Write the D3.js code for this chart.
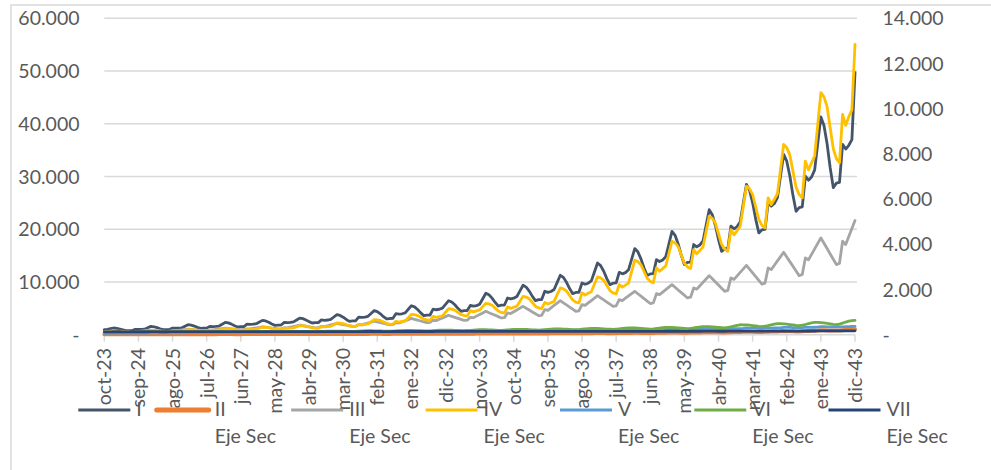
<!DOCTYPE html>
<html>
<head>
<meta charset="utf-8">
<script src="https://cdn.jsdelivr.net/npm/d3@7"></script>
<style>
  html, body { margin: 0; padding: 0; background: #ffffff; overflow: hidden; }
  svg { display: block; font-family: Lato, "Open Sans", "Noto Sans", sans-serif; }
</style>
</head>
<body>
<svg id="chart" width="991" height="470"></svg>
<script>
// Monthly series, oct-23 .. dic-43 (243 months)
const monthNames = ["ene","feb","mar","abr","may","jun","jul","ago","sep","oct","nov","dic"];
const firstMonthIndex = 9;   // oct
const firstYear = 23;
const pointCount = 243;
const categories = d3.range(pointCount).map(i => {
  const m = firstMonthIndex + i;
  return monthNames[m % 12] + "-" + String(firstYear + Math.floor(m / 12)).padStart(2, "0");
});

const tickLabels = ["oct-23","sep-24","ago-25","jul-26","jun-27","may-28","abr-29","mar-30","feb-31","ene-32",
  "dic-32","nov-33","oct-34","sep-35","ago-36","jul-37","jun-38","may-39","abr-40","mar-41","feb-42","ene-43","dic-43"];

const leftTicks = [0, 10000, 20000, 30000, 40000, 50000, 60000];
const rightTicks = [0, 2000, 4000, 6000, 8000, 10000, 12000, 14000];

// Series I (primary axis)
const serieI = [
  950, 1000, 1130,
  1270, 1210, 1080, 900, 760, 780, 790, 1010, 985, 1005, 1050, 1315,
  1580, 1505, 1340, 1125, 950, 980, 985, 1250, 1220, 1245, 1300, 1600,
  1900, 1815, 1635, 1395, 1200, 1235, 1240, 1580, 1540, 1570, 1645, 1990,
  2340, 2235, 2005, 1705, 1460, 1505, 1510, 2000, 1950, 1990, 2080, 2400,
  2720, 2605, 2360, 2035, 1770, 1825, 1830, 2340, 2280, 2330, 2435, 2790,
  3150, 3040, 2800, 2480, 2220, 2285, 2300, 2800, 2730, 2785, 2910, 3355,
  3800, 3650, 3315, 2885, 2530, 2605, 2620, 3350, 3265, 3335, 3485, 4020,
  4560, 4370, 3960, 3420, 2980, 3070, 3085, 3990, 3890, 3970, 4150, 4825,
  5500, 5275, 4780, 4140, 3610, 3720, 3735, 4850, 4730, 4825, 5045, 5745,
  6450, 6210, 5680, 4995, 4430, 4565, 4585, 5550, 5410, 5520, 5770, 6810,
  7850, 7560, 6935, 6115, 5440, 5605, 5630, 6960, 6785, 6925, 7240, 8305,
  9370, 9020, 8260, 7270, 6450, 6645, 6675, 8230, 8025, 8190, 8560, 9915,
  11270, 10850, 9945, 8755, 7780, 8015, 8050, 9810, 9565, 9760, 10200, 11900,
  13600, 13105, 12040, 10640, 9490, 9775, 9820, 11830, 11535, 11770, 12305, 14315,
  16330, 15715, 14380, 12635, 11200, 11535, 11590, 14240, 13885, 14170, 14810, 17205,
  19600, 18845, 17205, 15065, 13300, 13700, 13765, 17100, 16675, 17015, 17785, 20740,
  23700, 22750, 20700, 18010, 15800, 16275, 16355, 20600, 20085, 20495, 21425, 24960,
  28500, 27395, 25005, 21875, 19300, 19880, 19975, 25000, 24375, 24875, 26000, 30100,
  34200, 32905, 30095, 26425, 23400, 24100, 24220, 30050, 29300, 29900, 31250, 36275,
  41300, 39690, 36210, 31650, 27900, 28735, 28875, 36100, 35200, 35920, 37000, 49700
];

// Series II .. VII (secondary axis)
const serieII = [
  18, 18, 19,
  20,20,20,19,19,19,20,20,21,21,21,22,
  22,22,22,21,21,21,22,22,23,23,24,24,
  24,24,24,23,23,23,24,24,25,25,26,26,
  26,26,26,25,25,25,26,26,27,27,28,28,
  28,28,28,27,27,27,28,29,29,30,30,31,
  31,31,31,30,30,30,31,32,32,33,33,34,
  34,34,34,33,33,33,34,35,35,36,36,37,
  37,37,37,36,36,36,37,38,39,40,40,41,
  41,41,41,40,40,40,41,42,43,44,44,45,
  45,45,45,44,44,44,45,46,47,48,49,50,
  50,50,50,49,48,48,50,51,52,53,54,55,
  56,56,55,54,54,54,56,57,58,59,60,62,
  63,63,62,61,60,60,63,64,65,67,68,70,
  72,71,70,69,68,68,71,73,74,76,78,80,
  82,81,80,78,77,77,80,83,85,87,89,92,
  95,94,92,90,89,89,92,96,99,101,104,107,
  110,109,106,104,102,102,106,111,115,118,121,125,
  130,128,125,122,120,120,125,131,136,140,144,149,
  160,157,153,149,146,146,152,160,166,171,176,182,
  200,196,191,186,182,182,190,200,208,216,228,240
];

const serieIII = [
  140, 150, 160,
  170, 161, 152, 143, 134, 125, 127, 150, 146, 161, 176, 190,
  205, 194, 183, 172, 161, 150, 153, 180, 176, 193, 211, 228,
  245, 232, 219, 206, 193, 180, 184, 215, 210, 230, 250, 270,
  290, 275, 260, 245, 230, 215, 219, 260, 254, 278, 302, 326,
  350, 331, 312, 293, 274, 255, 260, 310, 302, 332, 361, 391,
  420, 397, 374, 351, 328, 305, 311, 370, 361, 396, 431, 465,
  500, 473, 446, 419, 392, 365, 372, 445, 434, 476, 517, 559,
  600, 568, 536, 504, 472, 440, 449, 530, 517, 568, 619, 669,
  720, 682, 644, 606, 568, 530, 541, 640, 624, 683, 742, 801,
  860, 814, 768, 722, 676, 630, 643, 770, 751, 822, 893, 963,
  1034, 975, 916, 858, 799, 740, 755, 961, 937, 1017, 1096, 1176,
  1255, 1172, 1090, 1007, 925, 842, 859, 1108, 1080, 1187, 1294, 1400,
  1507, 1412, 1318, 1223, 1129, 1034, 1055, 1329, 1296, 1404, 1512, 1620,
  1728, 1633, 1539, 1444, 1350, 1255, 1280, 1551, 1512, 1614, 1716, 1818,
  1920, 1812, 1704, 1596, 1488, 1380, 1408, 1817, 1772, 1882, 1994, 2104,
  2215, 2097, 1979, 1862, 1744, 1626, 1659, 2069, 2017, 2166, 2316, 2465,
  2614, 2475, 2336, 2196, 2057, 1918, 1956, 2512, 2449, 2604, 2760, 2915,
  3070, 2904, 2738, 2572, 2406, 2240, 2285, 2955, 2881, 3073, 3264, 3456,
  3647, 3440, 3234, 3027, 2821, 2614, 2666, 3398, 3313, 3556, 3799, 4041,
  4284, 4047, 3811, 3574, 3337, 3101, 3163, 4134, 3988, 4340, 4700, 5051
];

const serieIV = [
  110, 120, 135,
  150, 147, 141, 128, 114, 108, 105, 130, 124, 129, 134, 157,
  180, 177, 169, 153, 136, 128, 125, 160, 152, 158, 165, 195,
  225, 221, 211, 190, 169, 159, 155, 200, 190, 198, 206, 238,
  270, 265, 254, 230, 206, 195, 190, 240, 228, 238, 247, 289,
  330, 324, 310, 280, 250, 236, 230, 295, 280, 292, 304, 352,
  400, 393, 376, 340, 304, 287, 280, 360, 342, 356, 371, 445,
  518, 509, 487, 442, 396, 374, 365, 460, 437, 455, 474, 570,
  665, 653, 624, 563, 501, 472, 460, 590, 561, 584, 608, 754,
  900, 884, 848, 770, 692, 656, 640, 811, 770, 803, 835, 993,
  1150, 1131, 1086, 990, 894, 849, 830, 1063, 1010, 1052, 1095, 1243,
  1390, 1364, 1304, 1175, 1046, 986, 960, 1227, 1166, 1215, 1264, 1481,
  1697, 1664, 1588, 1424, 1259, 1183, 1150, 1430, 1359, 1416, 1473, 1771,
  2068, 2028, 1935, 1736, 1537, 1444, 1404, 1848, 1756, 1830, 1903, 2230,
  2556, 2511, 2405, 2180, 1954, 1848, 1803, 2215, 2104, 2193, 2281, 2787,
  3292, 3232, 3094, 2796, 2498, 2360, 2300, 2955, 2807, 2925, 3044, 3589,
  4134, 4061, 3892, 3529, 3166, 2997, 2924, 3766, 3578, 3728, 3879, 4560,
  5241, 5148, 4931, 4466, 4000, 3783, 3690, 4652, 4419, 4605, 4792, 5681,
  6571, 6460, 6202, 5649, 5096, 4838, 4727, 6057, 5754, 5996, 6239, 7328,
  8418, 8276, 7946, 7238, 6529, 6199, 6057, 7678, 7294, 7601, 7908, 9309,
  10709, 10523, 10089, 9158, 8227, 7793, 7607, 9747, 9260, 9650, 9950, 12849
];

const serieV = [
  62, 64, 66,
  71,71,70,69,69,69,69,70,71,71,72,73,
  82,81,80,79,78,78,79,80,81,82,82,83,
  92,91,90,89,88,88,89,90,91,92,93,94,
  102,101,100,99,98,98,99,100,101,102,103,104,
  112,111,110,109,108,108,109,110,111,112,113,114,
  122,121,120,119,118,118,119,120,121,122,124,125,
  133,131,130,129,127,127,129,130,131,133,134,135,
  143,141,140,139,137,137,139,140,141,143,144,146,
  153,152,150,149,147,147,149,150,152,153,155,156,
  165,164,162,160,159,159,160,162,164,165,167,168,
  179,177,175,173,172,172,173,175,177,179,180,182,
  192,190,188,186,184,184,186,188,190,192,194,196,
  204,202,200,198,196,196,198,200,202,204,206,208,
  219,217,215,213,211,211,213,215,217,219,221,224,
  235,232,230,228,225,225,228,230,232,235,237,239,
  250,247,245,243,240,240,243,245,247,250,252,255,
  270,268,265,262,260,260,262,265,268,270,273,276,
  296,293,290,287,284,284,287,290,293,296,299,302,
  326,323,320,317,314,314,317,320,323,326,330,333,
  357,354,350,347,343,343,347,350,354,357,362,368
];

const serieVI = [
  100, 104, 103,
  103,102,100,98,96,95,97,100,104,107,110,110,
  109,108,106,104,102,100,103,106,111,115,118,117,
  117,116,114,112,110,108,111,115,120,124,128,127,
  127,125,122,120,117,115,118,123,129,134,138,137,
  137,135,132,130,127,125,129,134,140,146,150,149,
  149,146,143,140,137,135,139,144,151,157,162,161,
  161,158,154,151,148,145,150,156,163,170,175,174,
  173,170,166,162,158,155,160,167,176,184,190,189,
  188,184,179,174,169,165,171,179,189,198,205,204,
  203,198,193,187,182,178,185,193,204,214,222,221,
  219,214,208,201,195,190,198,208,220,231,240,238,
  237,231,224,217,210,205,213,224,238,250,260,258,
  257,250,242,234,226,220,229,241,256,269,280,278,
  276,269,260,251,242,235,245,258,274,288,300,298,
  296,288,278,268,258,250,261,276,295,312,325,323,
  321,311,300,289,278,270,283,300,321,340,355,353,
  351,341,330,319,308,300,321,349,384,415,440,436,
  434,420,404,388,372,360,380,406,438,467,490,486,
  483,468,450,432,414,400,422,451,487,519,545,541,
  537,520,499,479,458,443,470,510,560,600,625,635
];

const serieVII = [
  128,128,129,
  130,130,130,129,129,129,130,130,130,131,131,131,
  132,132,132,131,131,131,132,132,132,133,133,133,
  134,134,134,133,133,133,134,134,134,135,135,135,
  136,136,136,135,135,135,136,136,136,137,137,137,
  137,137,137,136,136,136,137,137,137,138,138,138,
  138,138,138,137,137,137,138,138,139,139,139,140,
  140,140,140,139,139,139,140,140,140,141,141,141,
  141,141,141,140,140,140,141,141,142,142,142,142,
  142,142,142,141,141,141,142,142,143,143,143,144,
  144,144,144,143,143,143,144,144,144,145,145,145,
  145,145,145,144,144,144,145,145,146,146,146,146,
  146,146,146,145,145,145,146,146,147,147,147,148,
  148,148,148,147,147,147,148,148,148,149,149,149,
  149,149,149,148,148,148,149,149,150,150,150,150,
  150,150,150,149,149,149,150,150,151,151,152,152,
  152,152,152,151,151,151,152,152,153,153,154,154,
  154,154,154,153,153,153,154,155,155,156,156,157,
  157,157,157,156,156,156,157,158,158,159,160,160,
  161,161,161,160,160,160,161,162,163,163,164,165,
  166,166,166,165,165,165,166,167,168,169,170,172
];

const seriesNames = ["I", "II", "III", "IV", "V", "VI", "VII"];
const seriesValues = [serieI, serieII, serieIII, serieIV, serieV, serieVI, serieVII];
const seriesColors = ["#44546A", "#ED7D31", "#A5A5A5", "#FFC000", "#5B9BD5", "#70AD47", "#264478"];
const onSecondary = [false, true, true, true, true, true, true];
const secondaryNote = "Eje Sec";

// ---- layout ----
const svg = d3.select("#chart");
const plot = { left: 104.3, right: 855, top: 18.3, bottom: 334.7 };
const textColor = "#595959";
const gridColor = "#D9D9D9";
const fontSize = 19.5;

const x = d3.scalePoint().domain(categories).range([plot.left, plot.right]);
const yL = d3.scaleLinear().domain([0, 60000]).range([plot.bottom, plot.top]);
const yR = d3.scaleLinear().domain([0, 14000]).range([plot.bottom, plot.top]);

const fmt = d => d === 0 ? "-" : d3.format(",.0f")(d).replace(/,/g, ".");

// chart frame
svg.append("rect")
  .attr("x", 11).attr("y", 5).attr("width", 1000).attr("height", 500)
  .attr("fill", "#ffffff").attr("stroke", gridColor).attr("stroke-width", 1.5);

// horizontal gridlines (primary axis)
svg.append("g").selectAll("line").data(leftTicks.filter(d => d > 0)).join("line")
  .attr("x1", plot.left).attr("x2", 857)
  .attr("y1", d => yL(d)).attr("y2", d => yL(d))
  .attr("stroke", gridColor).attr("stroke-width", 1.5);

// left axis labels
svg.append("g").selectAll("text").data(leftTicks).join("text")
  .attr("x", 79.5).attr("y", d => yL(d)).attr("dy", "0.36em")
  .attr("text-anchor", "end").attr("fill", textColor).attr("font-size", fontSize)
  .text(fmt);

// right axis labels
svg.append("g").selectAll("text").data(rightTicks).join("text")
  .attr("x", 882.5).attr("y", d => yR(d)).attr("dy", "0.36em")
  .attr("text-anchor", "start").attr("fill", textColor).attr("font-size", fontSize)
  .text(fmt);

// category axis line and tick marks
svg.append("line")
  .attr("x1", plot.left).attr("x2", plot.right)
  .attr("y1", plot.bottom).attr("y2", plot.bottom)
  .attr("stroke", gridColor).attr("stroke-width", 1.5);
svg.append("g").selectAll("line").data(tickLabels).join("line")
  .attr("x1", d => x(d)).attr("x2", d => x(d))
  .attr("y1", plot.bottom).attr("y2", plot.bottom + 7)
  .attr("stroke", gridColor).attr("stroke-width", 1.5);

// series lines: primary first, secondary on top
const lineGroup = svg.append("g");
seriesValues.forEach((vals, i) => {
  const yScale = onSecondary[i] ? yR : yL;
  const line = d3.line()
    .x((d, j) => x(categories[j]))
    .y(d => yScale(d));
  lineGroup.append("path")
    .datum(vals)
    .attr("d", line)
    .attr("fill", "none")
    .attr("stroke", seriesColors[i])
    .attr("stroke-width", i === 1 ? 4 : 2.8)
    .attr("stroke-linejoin", "round")
    .attr("stroke-linecap", "round");
});

// category labels, rotated
svg.append("g").selectAll("text").data(tickLabels).join("text")
  .attr("transform", d => `translate(${x(d) + 7},348) rotate(-90)`)
  .attr("text-anchor", "end").attr("fill", textColor).attr("font-size", fontSize)
  .text(d => d);

// legend
const legendStarts = [78.3, 156.7, 291.2, 425.6, 560, 694.3, 828.5];
const legend = svg.append("g");
seriesNames.forEach((name, i) => {
  const x0 = legendStarts[i];
  legend.append("line")
    .attr("x1", x0).attr("x2", x0 + 52)
    .attr("y1", 410).attr("y2", 410)
    .attr("stroke", seriesColors[i])
    .attr("stroke-width", i === 1 ? 5 : 2.8)
    .attr("stroke-linecap", i === 1 ? "round" : "butt");
  const t = legend.append("text")
    .attr("fill", textColor).attr("font-size", fontSize);
  t.append("tspan").attr("x", x0 + 58).attr("y", 416).text(name);
  if (onSecondary[i]) {
    t.append("tspan").attr("x", x0 + 58).attr("y", 443).text(secondaryNote);
  }
});
</script>
</body>
</html>
